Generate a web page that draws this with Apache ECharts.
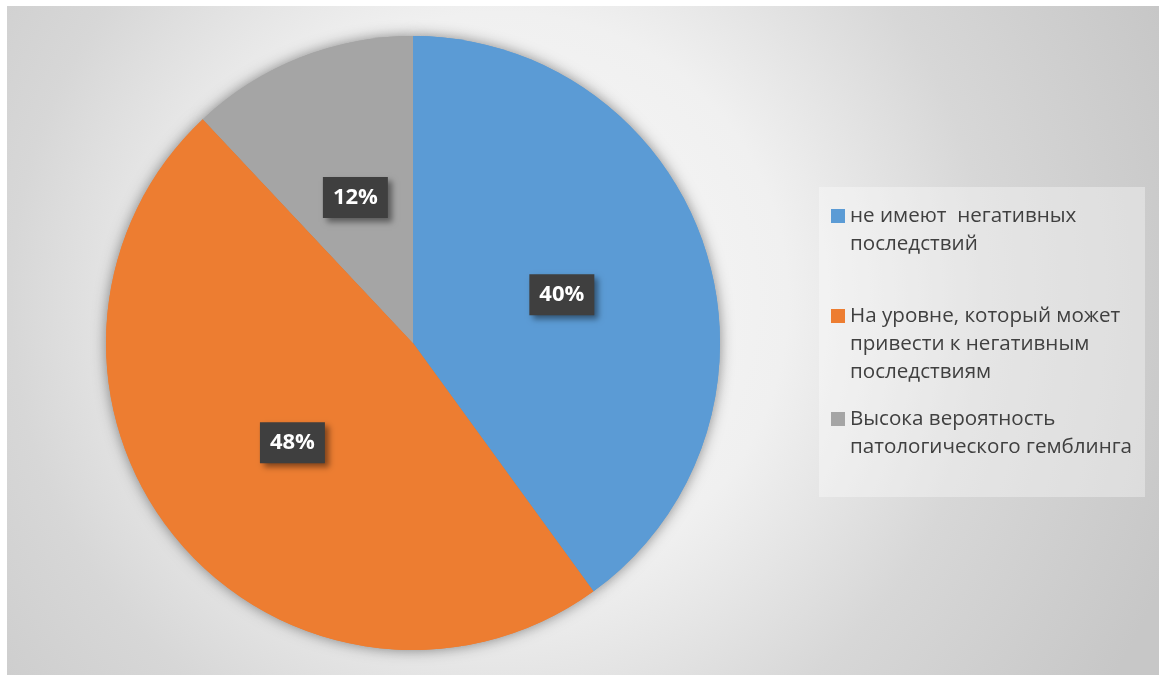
<!DOCTYPE html>
<html>
<head>
<meta charset="utf-8">
<script src="https://cdn.jsdelivr.net/npm/echarts@6/dist/echarts.min.js"></script>
<style>
  html, body { margin: 0; padding: 0; background: #fff; }
  #chart { width: 1159px; height: 675px; }
</style>
</head>
<body>
<div id="chart"></div>
<script>
const CATEGORIES = [
  'не имеют  негативных\nпоследствий',
  'На уровне, который может\nпривести к негативным\nпоследствиям',
  'Высока вероятность\nпатологического гемблинга'
]
const VALUES = [40, 48, 12]
const COLORS = ['#5b9bd5', '#ed7d31', '#a5a5a5']

const chart = echarts.init(document.getElementById('chart'), null, { renderer: 'canvas' })

const pieData = CATEGORIES.map((name, i) => ({ name, value: VALUES[i], itemStyle: { color: COLORS[i] } }))

// one legend per entry, so each icon sits on the first line of its text
const LEGEND_TOPS = [174, 246, 377]
const LINE_H = 28
const legends = CATEGORIES.map((name, i) => {
  const lines = name.split('\n').length
  return {
    data: [name],
    left: 831,
    top: LEGEND_TOPS[i],
    padding: 0,
    orient: 'vertical',
    icon: 'rect',
    itemWidth: 14,
    itemHeight: 14,
    selectedMode: false,
    // leading blank lines push the first line level with the icon
    formatter: n => '\n'.repeat(lines - 1) + n,
    textStyle: {
      fontFamily: 'Open Sans',
      fontSize: 20.6,
      color: '#404040',
      lineHeight: LINE_H,
    },
  }
})

const option = {
  animation: false,
  graphic: [
    {
      type: 'rect',
      z: -10,
      shape: { x: 7, y: 6, width: 1152, height: 669 },
      style: {
        fill: new echarts.graphic.RadialGradient(500, 300, 720, [
          { offset: 0, color: '#f9f9f9' },
          { offset: 0.4, color: '#f0f0f0' },
          { offset: 0.68, color: '#d7d7d7' },
          { offset: 1, color: '#c7c7c7' },
        ], true),
      },
      silent: true,
    },
    {
      type: 'rect',
      z: -9,
      shape: { x: 819, y: 187, width: 326, height: 310 },
      style: { fill: 'rgba(255,255,255,0.35)' },
      silent: true,
    },
  ],
  legend: legends,
  series: [
    {
      name: 'main',
      type: 'pie',
      z: 3,
      center: [413, 343],
      radius: 307,
      startAngle: 90,
      clockwise: true,
      silent: true,
      itemStyle: { borderWidth: 0 },
      label: {
        show: true,
        position: 'inside',
        formatter: p => p.value + '%',
        fontFamily: 'Open Sans',
        fontWeight: 'bold',
        fontSize: 22,
        lineHeight: 23,
        color: '#ffffff',
        backgroundColor: '#3f3f3f',
        padding: [9, 10, 9, 10],
        shadowColor: 'rgba(0,0,0,0.45)',
        shadowBlur: 6,
        shadowOffsetX: 4,
        shadowOffsetY: 4,
      },
      labelLine: { show: false },
      data: pieData,
    },
    {
      // shadow under the whole pie
      name: 'shadow',
      type: 'pie',
      z: 1,
      center: [413, 343],
      radius: 307,
      startAngle: 90,
      silent: true,
      itemStyle: { shadowBlur: 14, shadowColor: 'rgba(0,0,0,0.45)' },
      label: { show: false },
      labelLine: { show: false },
      data: pieData,
    },
  ],
}

chart.setOption(option)
</script>
</body>
</html>
